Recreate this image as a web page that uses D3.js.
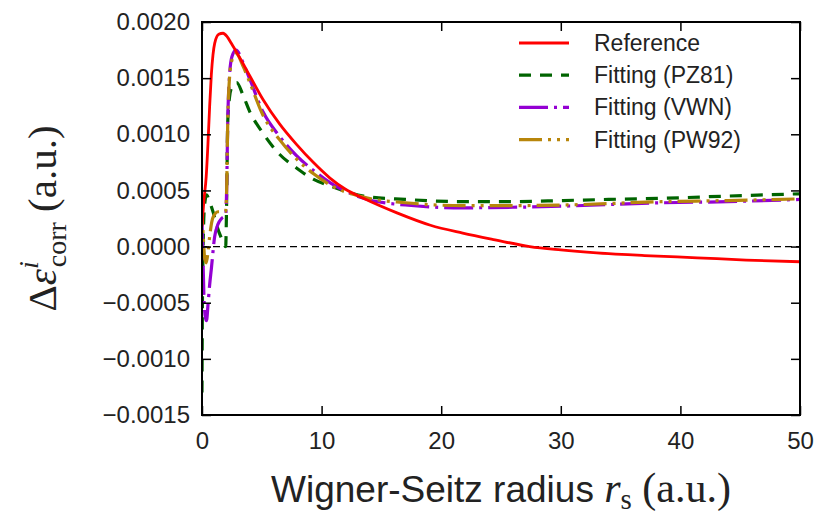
<!DOCTYPE html>
<html>
<head>
<meta charset="utf-8">
<script src="https://cdn.jsdelivr.net/npm/d3@7"></script>
<style>
  body { margin: 0; background: #fff; }
  svg text { fill: #222; }
</style>
</head>
<body>
<div class="svg-content"></div>
<script>
// r_s (a.u.) vs delta epsilon (a.u.)
const reference = [[0.0, 0.00018], [0.15, 0.00040], [0.35, 0.00062], [0.5, 0.00092], [0.64, 0.00125],
  [0.78, 0.00153], [0.92, 0.00171], [1.06, 0.00181], [1.4, 0.00189], [1.76, 0.00190], [2.1, 0.00187],
  [2.45, 0.00181], [3.0, 0.00171], [4.0, 0.00152], [5.1, 0.00131], [6.5, 0.00109], [7.9, 0.00091],
  [9.3, 0.00075], [10.7, 0.00061], [12.0, 0.00051], [13.5, 0.00043], [16.3, 0.00030], [19.1, 0.00019],
  [21.8, 0.00012], [24.5, 0.00006], [27.4, 0.0], [30, -0.00003], [33, -0.000056], [37, -0.00008],
  [41.4, -0.0001], [45.5, -0.00012], [50, -0.000135]];

const pz81 = [[0.0, -0.0013], [0.03, -0.0006], [0.08, -0.0001], [0.15, 0.00025], [0.25, 0.0004],
  [0.38, 0.00046], [0.6, 0.00041], [0.95, 0.0003], [1.23, 0.00019], [1.64, 0.00007], [1.98, 0.0],
  [2.06, 0.0004], [2.15, 0.0011], [2.3, 0.00133], [2.5, 0.00142], [2.9, 0.00146], [3.46, 0.00134],
  [4.0, 0.0012], [5.1, 0.00101], [6.5, 0.00082], [7.9, 0.0007], [9.3, 0.0006], [10.7, 0.00054],
  [13.5, 0.00045], [17, 0.00042], [21.8, 0.0004], [26, 0.0004], [30.2, 0.00041], [34, 0.00042],
  [38.5, 0.00043], [44, 0.00045], [50, 0.00047]];

const vwn = [[0.0, 0.00022], [0.08, -0.0001], [0.18, -0.0005], [0.3, -0.00064], [0.38, -0.00066],
  [0.5, -0.00052], [0.64, -0.00034], [0.78, -0.0002], [1.06, 0.00009], [1.34, 0.0002], [1.64, 0.00025],
  [1.98, 0.00028], [2.06, 0.0005], [2.15, 0.0011], [2.3, 0.00152], [2.5, 0.00169], [2.84, 0.00175],
  [3.46, 0.00163], [4.0, 0.00149], [5.1, 0.0012], [6.5, 0.00098], [7.9, 0.00081], [9.3, 0.00068],
  [10.7, 0.00057], [13.5, 0.00043], [17, 0.00037], [21.8, 0.000345], [26, 0.00035], [30.2, 0.00036],
  [38.5, 0.00039], [44, 0.0004], [50, 0.00042]];

const pw92 = [[0.0, 0.00028], [0.1, 0.0001], [0.22, -0.0001], [0.36, -0.000145], [0.5, -0.00005],
  [0.64, 0.00009], [0.92, 0.00026], [1.34, 0.00031], [1.9, 0.00031], [1.98, 0.00032], [2.06, 0.0005],
  [2.15, 0.0011], [2.3, 0.0015], [2.5, 0.00166], [2.84, 0.00172], [3.46, 0.0016], [4.0, 0.00146],
  [5.1, 0.00117], [6.5, 0.00095], [7.9, 0.00078], [9.3, 0.00065], [10.7, 0.00055], [13.5, 0.00044],
  [17, 0.00039], [21.8, 0.000365], [26, 0.000365], [30.2, 0.00037], [38.5, 0.0004], [44, 0.00041],
  [50, 0.000425]];

const xTicks = [0, 10, 20, 30, 40, 50];
const yTicks = [-0.0015, -0.0010, -0.0005, 0.0, 0.0005, 0.0010, 0.0015, 0.0020];
const legendLabels = ["Reference", "Fitting (PZ81)", "Fitting (VWN)", "Fitting (PW92)"];

const svgWidth = 831;
const svgHeight = 522;
const plotLeft = 202, plotRight = 800, plotTop = 22, plotBottom = 415;

const series = [
  { data: reference, color: "#ff0000", width: 2.8, dash: null, offset: 0 },
  { data: pz81, color: "#006400", width: 3.2, dash: "12,9", offset: 0 },
  { data: vwn, color: "#9400d3", width: 3.2, dash: "29,6,3,6", offset: 0 },
  { data: pw92, color: "#b8860b", width: 3.2, dash: "23,6,3,6,3,6", offset: 14 }
];

let svg = d3.select(".svg-content")
            .append("svg")
            .attr("width", svgWidth)
            .attr("height", svgHeight);

const xScale = d3.scaleLinear().domain([0, 50]).range([plotLeft, plotRight]);
const yScale = d3.scaleLinear().domain([-0.0015, 0.0020]).range([plotBottom, plotTop]);

const fmtY = v => d3.format(".4f")(v).replace("-", "\u2212");
const sans = "'Liberation Sans', Arial, sans-serif";
const serif = "'Liberation Serif', 'DejaVu Serif', serif";

svg.append("clipPath").attr("id", "plot-clip")
   .append("rect")
   .attr("x", plotLeft).attr("y", plotTop)
   .attr("width", plotRight - plotLeft).attr("height", plotBottom - plotTop);

// zero line
svg.append("line")
   .attr("x1", plotLeft).attr("x2", plotRight)
   .attr("y1", yScale(0)).attr("y2", yScale(0))
   .attr("stroke", "#000")
   .attr("stroke-width", 1.3)
   .attr("stroke-dasharray", "7,4");

const line = d3.line()
               .x(d => xScale(d[0]))
               .y(d => yScale(d[1]))
               .curve(d3.curveMonotoneX);

const drawOrder = [1, 2, 3, 0];
let curves = svg.append("g").attr("clip-path", "url(#plot-clip)");
drawOrder.forEach(i => {
  const s = series[i];
  curves.append("path")
        .attr("d", line(s.data))
        .attr("fill", "none")
        .attr("stroke", s.color)
        .attr("stroke-width", s.width)
        .attr("stroke-dasharray", s.dash)
        .attr("stroke-dashoffset", s.offset)
        .attr("stroke-linejoin", "round");
});

// axes with inward ticks on all four sides
const xAxis = d3.axisBottom(xScale).tickValues(xTicks).tickSizeInner(-9).tickSizeOuter(0).tickPadding(17);
const yAxis = d3.axisLeft(yScale).tickValues(yTicks).tickSizeInner(-9).tickSizeOuter(0).tickPadding(12).tickFormat(fmtY);
const xTop = d3.axisTop(xScale).tickValues(xTicks).tickSizeInner(-9).tickSizeOuter(0).tickFormat("");
const yRight = d3.axisRight(yScale).tickValues(yTicks).tickSizeInner(-9).tickSizeOuter(0).tickFormat("");

const gx = svg.append("g").attr("transform", "translate(0," + plotBottom + ")").call(xAxis);
const gy = svg.append("g").attr("transform", "translate(" + plotLeft + ",0)").call(yAxis);
svg.append("g").attr("transform", "translate(0," + plotTop + ")").call(xTop);
svg.append("g").attr("transform", "translate(" + plotRight + ",0)").call(yRight);

svg.selectAll(".domain").remove();
svg.selectAll(".tick line").attr("stroke", "#000").attr("stroke-width", 1.5);
gx.selectAll("text").attr("font-family", sans).attr("font-size", 24).style("fill", "#222");
gy.selectAll("text").attr("font-family", sans).attr("font-size", 24).style("fill", "#222");

svg.append("rect")
   .attr("x", plotLeft).attr("y", plotTop)
   .attr("width", plotRight - plotLeft).attr("height", plotBottom - plotTop)
   .attr("fill", "none")
   .attr("stroke", "#000")
   .attr("stroke-width", 2);

// x label
let xl = svg.append("text")
            .attr("x", (plotLeft + plotRight) / 2)
            .attr("y", 502)
            .attr("text-anchor", "middle")
            .attr("font-size", 37);
xl.append("tspan").attr("font-family", sans).text("Wigner-Seitz radius ");
xl.append("tspan").attr("font-family", serif).attr("font-style", "italic").attr("font-size", 42).text("r");
xl.append("tspan").attr("font-family", serif).attr("font-size", 29).attr("dy", 7).text("s");
xl.append("tspan").attr("font-family", serif).attr("font-size", 42).attr("dy", -7).text(" (a.u.)");

// y label
let yl = svg.append("text")
            .attr("transform", "translate(56," + ((plotTop + plotBottom) / 2) + ") rotate(-90)")
            .attr("text-anchor", "middle")
            .attr("font-family", serif)
            .attr("font-size", 41);
yl.append("tspan").text("\u0394");
yl.append("tspan").attr("font-style", "italic").text("\u03b5");
yl.append("tspan").attr("font-style", "italic").attr("font-size", 28).attr("dy", -18).text("i");
yl.append("tspan").attr("font-size", 28).attr("dx", -6).attr("dy", 28).text("corr");
yl.append("tspan").attr("dy", -10).text(" (a.u.)");

// legend
let legend = svg.append("g");
series.forEach((s, i) => {
  const ly = 43 + i * 32.2;
  legend.append("line")
        .attr("x1", 519).attr("x2", 569)
        .attr("y1", ly).attr("y2", ly)
        .attr("stroke", s.color)
        .attr("stroke-width", s.width)
        .attr("stroke-dasharray", s.dash);
  legend.append("text")
        .attr("x", 594).attr("y", ly + 8)
        .attr("font-family", sans)
        .attr("font-size", 23)
        .text(legendLabels[i]);
});
</script>
</body>
</html>
